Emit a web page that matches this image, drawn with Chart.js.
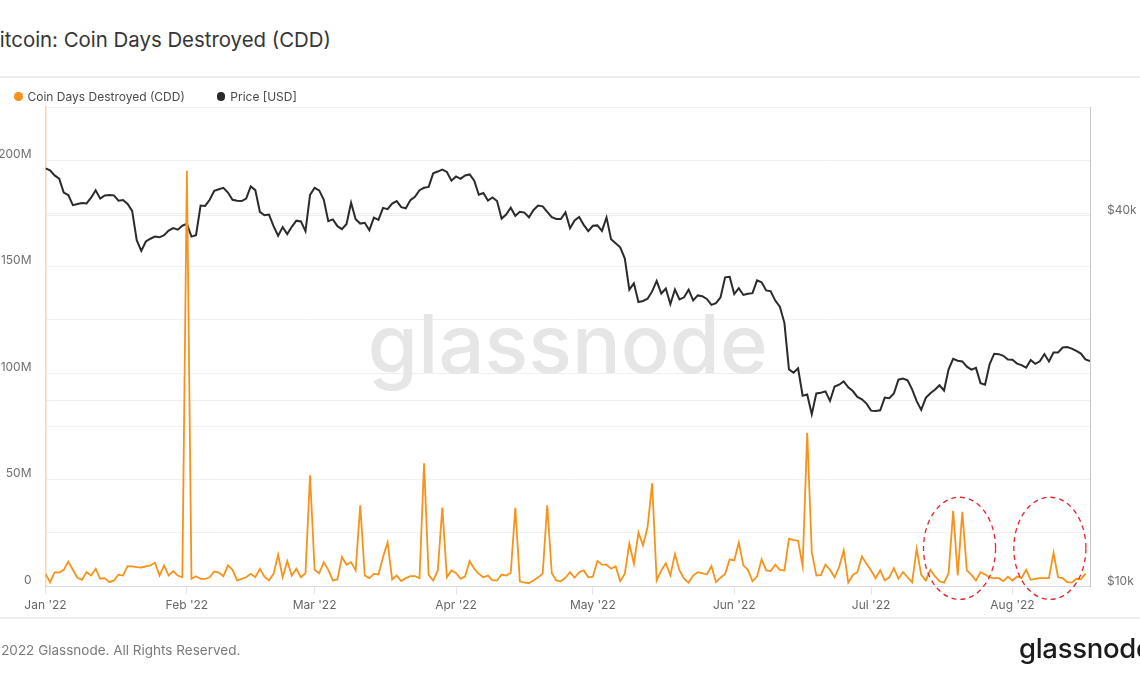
<!DOCTYPE html>
<html><head><meta charset="utf-8">
<script src="https://cdn.jsdelivr.net/npm/chart.js@4.4.1/dist/chart.umd.min.js"></script>
<style>
html,body{margin:0;padding:0;background:#fff;}
body{width:1140px;height:684px;position:relative;overflow:hidden;font-family:Inter,'Noto Sans',sans-serif;}
.abs{position:absolute;white-space:nowrap;}
#chart{position:absolute;left:0;top:0;}
.dot{display:inline-block;width:8.5px;height:8.5px;border-radius:50%;vertical-align:middle;margin-right:5px;position:relative;top:-1px;}
.item{display:inline-block;margin-right:32px;}
</style></head><body>
<div class="abs" id="title" style="left:-13.5px;top:29.5px;font-size:20.4px;line-height:20px;color:#353535;">Bitcoin: Coin Days Destroyed (CDD)</div>
<div class="abs" style="left:0;top:76px;width:1140px;height:2px;background:#ededed"></div>
<canvas id="chart" width="1140" height="684"></canvas>
<div class="abs" id="legend" style="top:91px;left:14px;font-size:12px;line-height:12px;color:#4a4a4a"></div>
<div class="abs" style="left:0;top:617px;width:1140px;height:2px;background:#ededed"></div>
<div class="abs" style="left:-15px;top:643px;font-size:13.5px;line-height:14px;color:#7a7a7a">© 2022 Glassnode. All Rights Reserved.</div>
<div class="abs" style="left:1019px;top:635px;font-size:27.5px;line-height:27px;font-weight:500;color:#1b1b1b;letter-spacing:-0.3px">glassnode</div>
<script>
// ---- data ----
const seriesNames = ['Coin Days Destroyed (CDD)', 'Price [USD]'];
const seriesColors = ['#f7931a', '#2b2b2b'];

const monthStartDays = [0, 31, 59, 90, 120, 151, 181, 212];
const monthLabels = ["Jan '22", "Feb '22", "Mar '22", "Apr '22", "May '22", "Jun '22", "Jul '22", "Aug '22"];

const cddTickValues = [0, 50e6, 100e6, 150e6, 200e6];
const cddTickLabels = ['0', '50M', '100M', '150M', '200M'];

const priceTickValues = [10000, 20000, 40000];
const priceTickLabels = ['$10k', '', '$40k'];

// CDD in millions, daily from 2022-01-01
const cddMillions = [
  5.7,1.8,6.5,6.3,7.6,11.5,7.6,3.9,2.9,6.5,
  4.9,8.1,3.4,3.7,1.8,2.6,5.3,4.9,9.3,9.2,
  8.9,8.7,9.2,9.7,10.9,4.9,9.7,4.9,7.0,4.9,
  4.1,195,3.4,4.6,3.3,3.3,4.1,6.8,6.3,4.6,
  9.7,7.6,2.6,3.3,4.1,5.7,4.1,8.1,4.4,2.6,
  5.7,14.7,4.1,11.7,4.9,8.1,4.1,6.0,52,7.6,
  6.0,11.2,7.6,2.6,3.1,13.6,10.0,11.2,7.3,37.9,
  4.9,3.7,5.7,5.4,13.6,20.4,3.1,4.9,2.3,3.7,
  4.6,4.6,3.7,57.6,5.2,2.6,7.3,36.8,4.1,7.3,
  6.1,3.4,4.5,11.7,8.1,5.7,4.1,4.9,2.6,2.6,
  5.4,4.9,6.1,36.7,2.2,1.6,1.4,2.6,4.1,5.7,
  37.9,6.0,2.6,2.2,3.9,6.5,3.9,6.5,7.3,4.1,
  4.4,11.7,10.0,10.0,8.1,9.2,2.3,5.7,20.0,10.4,
  25.1,19.1,27.7,48.2,2.6,7.3,10.7,5.0,15.0,7.3,
  3.4,1.6,4.9,6.5,6.0,5.4,9.3,1.8,3.9,5.7,
  12.5,12.0,20.4,9.7,7.6,2.3,4.4,12.5,7.3,7.0,
  10.0,7.6,7.3,22.2,21.5,21.2,9.3,72,15.9,4.9,
  5.2,10.0,7.6,4.1,8.9,16.7,1.6,5.2,6.5,13.9,
  10.4,7.3,3.7,7.4,2.6,4.1,8.4,3.4,6.5,4.1,
  1.8,17.5,5.2,2.6,7.6,4.6,2.2,1.6,6.0,35.3,
  5.0,34.8,7.3,5.2,2.6,6.5,5.4,4.1,3.7,3.7,
  2.3,4.4,2.6,4.4,3.7,7.6,2.9,3.4,3.7,3.7,
  3.7,15.6,4.1,3.7,1.8,1.6,3.4,3.1,5.8
];

// BTC price in USD, daily from 2022-01-01
const priceUsd = [
  47686,47345,46458,45897,43569,43160,41558,41734,41912,41822,42736,43949,42592,43099,43177,43114,42250,42375,41744,40681,36458,35031,36276,36654,36954,36852,37138,37784,38138,37917,38483,
  38743,36952,37154,41500,41441,42412,43840,44118,44338,43565,42407,42244,42197,42586,44575,43961,40538,40030,40122,38431,37075,38286,37296,38332,39214,39106,37710,43194,
  44354,43925,42452,39137,39400,38420,37988,38730,41941,39439,38794,38904,37849,39667,39339,41143,40951,41801,42191,41247,41077,42358,42893,43960,44349,44500,46820,47128,47465,47062,45538,
  46281,45868,46453,46622,45555,43206,43503,42287,42782,42207,39521,40127,41166,39935,40553,40424,39716,40826,41502,41375,40527,39741,39478,39469,40458,38118,39241,39773,38609,37714,
  38469,38529,37750,39698,36575,36040,35501,34059,30296,31022,28936,29047,29283,30101,31305,29862,30425,28720,30314,29201,29445,30293,29110,29655,29562,29268,28628,28814,29445,31726,31792,
  29799,30467,29704,29832,29906,31370,31155,30215,30112,29084,28424,26762,22487,22206,22572,20381,20471,19017,20553,20600,20710,19988,21086,21232,21502,21028,20735,20281,20105,19785,
  19269,19243,19297,20231,20191,20548,21637,21731,21592,20861,19971,19323,20212,20569,20836,21190,20780,22485,23390,23231,23164,22714,22465,22609,21361,21239,22930,23843,23804,23656,23336,
  23314,22978,22846,22630,23289,22961,23175,23810,23164,23948,23957,24403,24442,24306,24100,23854,23342,23191
];

// highlighted periods (annotation): centre day, centre CDD (M), half-width in days, half-height in M
const highlightDays = [200.4, 220.2];
const highlightCenterM = 17.7;
const highlightHalfDays = 7.9;
const highlightHalfM = 24;

// ---- legend ----
const lg = document.getElementById('legend');
seriesNames.forEach((n, i) => {
  const it = document.createElement('span');
  it.className = 'item';
  it.innerHTML = '<span class="dot" style="background:' + seriesColors[i] + '"></span>' + n;
  lg.appendChild(it);
});

// ---- plugins ----
const watermark = {
  id: 'watermark',
  beforeDatasetsDraw(chart) {
    const a = chart.chartArea, ctx = chart.ctx;
    ctx.save();
    ctx.font = '500 100px Inter, sans-serif';
    const w = ctx.measureText('glassnode').width;
    const size = 100 * 400 / w;
    ctx.font = '500 ' + size + 'px Inter, sans-serif';
    ctx.fillStyle = '#e6e6e6';
    ctx.textAlign = 'center';
    ctx.textBaseline = 'alphabetic';
    ctx.fillText('glassnode', (a.left + a.right) / 2, (a.top + a.bottom) / 2 + 26);
    ctx.restore();
  }
};
const ellipses = {
  id: 'ellipses',
  afterDraw(chart) {
    const x = chart.scales.x, y = chart.scales.yL, ctx = chart.ctx;
    ctx.save();
    ctx.strokeStyle = '#e8242a';
    ctx.lineWidth = 1.3;
    ctx.setLineDash([5, 4]);
    highlightDays.forEach(d => {
      const cx = x.getPixelForValue(d);
      const cy = y.getPixelForValue(highlightCenterM * 1e6);
      const rx = x.getPixelForValue(d + highlightHalfDays) - cx;
      const ry = cy - y.getPixelForValue((highlightCenterM + highlightHalfM) * 1e6);
      ctx.beginPath();
      ctx.ellipse(cx, cy, rx, ry, 0, 0, Math.PI * 2);
      ctx.stroke();
    });
    ctx.restore();
  }
};

const tickFont = { family: 'Inter, sans-serif', size: 12 };

new Chart(document.getElementById('chart').getContext('2d'), {
  type: 'line',
  data: {
    datasets: [
      { label: seriesNames[0], data: cddMillions.map((v, i) => ({ x: i, y: v * 1e6 })), yAxisID: 'yL',
        borderColor: seriesColors[0], borderWidth: 1.8, pointRadius: 0, tension: 0, fill: false },
      { label: seriesNames[1], data: priceUsd.map((v, i) => ({ x: i, y: v })), yAxisID: 'yR',
        borderColor: seriesColors[1], borderWidth: 2, pointRadius: 0, tension: 0, fill: false }
    ]
  },
  options: {
    responsive: false, animation: false, devicePixelRatio: 1,
    layout: { padding: { top: 107, bottom: 68, left: 0, right: 0 } },
    plugins: { legend: { display: false }, tooltip: { enabled: false }, title: { display: false } },
    scales: {
      x: {
        type: 'linear', min: 0, max: priceUsd.length - 1,
        afterBuildTicks: s => { s.ticks = monthStartDays.map(v => ({ value: v })); },
        afterFit: s => { s.height = 30; },
        ticks: { callback: (v, i) => monthLabels[i], autoSkip: false, maxRotation: 0, padding: 4, color: '#666', font: tickFont },
        grid: { drawOnChartArea: false, drawTicks: true, tickLength: 8, color: '#e4e4e4' },
        border: { color: '#dadada' }
      },
      yL: {
        type: 'linear', position: 'left', min: 0, max: 225e6,
        ticks: { stepSize: 25e6, autoSkip: false, padding: 14, labelOffset: -6, color: '#707070', font: tickFont,
          callback: v => { const k = cddTickValues.indexOf(v); return k >= 0 ? cddTickLabels[k] : ''; } },
        afterFit: s => { s.width = 45.5; },
        grid: { color: '#f0f0f0', drawTicks: false },
        border: { color: '#fdd4a3', width: 1.5 }
      },
      yR: {
        type: 'logarithmic', position: 'right', min: 10000, max: 60000,
        afterBuildTicks: s => { s.ticks = priceTickValues.map(v => ({ value: v })); },
        afterFit: s => { s.width = 50; },
        ticks: { autoSkip: false, padding: 17, labelOffset: -5, color: '#707070', font: tickFont,
          callback: v => { const k = priceTickValues.indexOf(v); return k >= 0 ? priceTickLabels[k] : ''; } },
        grid: { color: '#eeeeee', drawTicks: false },
        border: { color: '#c6c6c6' }
      }
    }
  },
  plugins: [watermark, ellipses]
});
</script>
</body></html>
